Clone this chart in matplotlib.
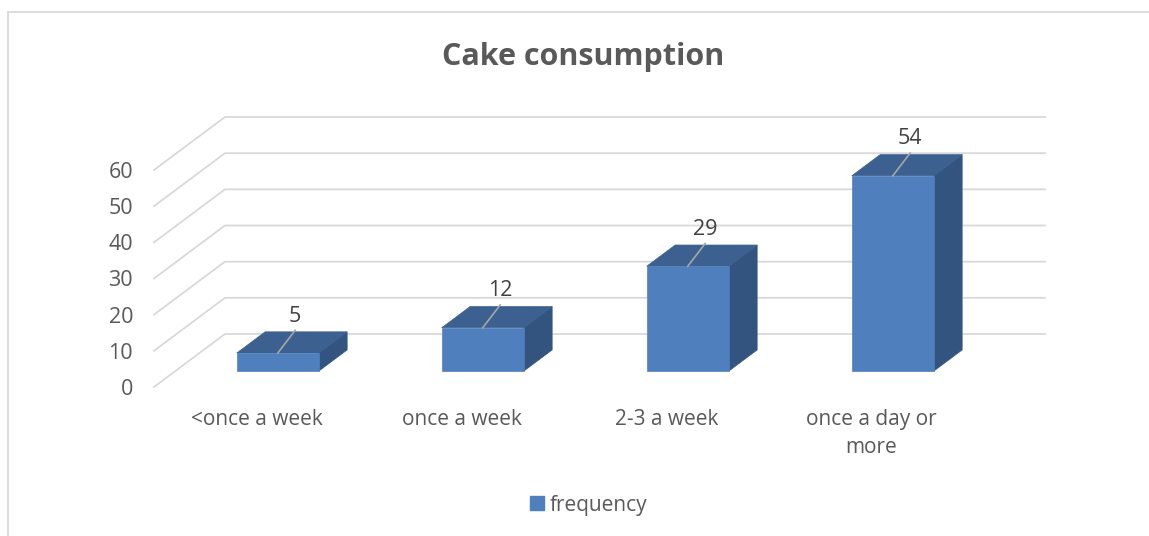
import matplotlib
matplotlib.use("Agg")
import matplotlib.pyplot as plt
import matplotlib as mpl
from matplotlib.patches import Polygon, Rectangle, Patch

categories = ["<once a week", "once a week", "2-3 a week", "once a day or\nmore"]
frequency = [5, 12, 29, 54]
yticks = [0, 10, 20, 30, 40, 50, 60]
title = "Cake consumption"
series_name = "frequency"

plt.rcParams['font.family'] = ['Open Sans', 'DejaVu Sans']

TEXT = "#595959"
GRID = "#d9d9d9"
FRONT = "#4f7fbd"
TOP = "#3c6190"
SIDE = "#32547f"

# oblique projection of the depth axis, in data units
DX = 0.346
DY = 14.65
BAR_W = 0.4
D_FRONT, D_BACK = 0.3, 0.7


def proj(x, v, d):
    return x + d * DX, v + d * DY


fig = plt.figure(figsize=(11.49, 5.36), dpi=100)
ax = fig.add_axes([154 / 1149, (536 - 387) / 536, 820 / 1149, 217 / 536])
ax.set_xlim(-0.5, 3.5)
ax.set_ylim(0, 60)
for s in ax.spines.values():
    s.set_visible(False)
ax.patch.set_visible(False)

ax.set_yticks(yticks)
ax.set_yticklabels([str(t) for t in yticks])
ax.set_xticks(range(len(categories)))
ax.set_xticklabels(categories, linespacing=1.45)
ax.tick_params(axis="y", length=0, pad=15, labelsize=15.5, labelcolor=TEXT)
ax.tick_params(axis="x", length=0, pad=16, labelsize=15, labelcolor=TEXT)

# gridlines on floor edge + back wall
x0, x1 = ax.get_xlim()
for v in yticks:
    bx, by = proj(x0, v, 1)
    ex, ey = proj(x1, v, 1)
    ax.plot([x0, bx, ex], [v, by, ey], color=GRID, lw=1.3, clip_on=False, zorder=1)

# 3d bars
for i, val in enumerate(frequency):
    l, r = i - BAR_W / 2, i + BAR_W / 2
    fl = proj(l, 0, D_FRONT)
    fr = proj(r, 0, D_FRONT)
    ftl = proj(l, val, D_FRONT)
    ftr = proj(r, val, D_FRONT)
    btl = proj(l, val, D_BACK)
    btr = proj(r, val, D_BACK)
    bbr = proj(r, 0, D_BACK)
    ax.add_patch(Polygon([fr, bbr, btr, ftr], closed=True, facecolor=SIDE,
                         edgecolor=SIDE, lw=0.5, clip_on=False, zorder=3))
    ax.add_patch(Polygon([ftl, ftr, btr, btl], closed=True, facecolor=TOP,
                         edgecolor=TOP, lw=0.5, clip_on=False, zorder=3))
    ax.add_patch(Polygon([fl, fr, ftr, ftl], closed=True, facecolor=FRONT,
                         edgecolor=FRONT, lw=0.5, clip_on=False, zorder=4))
    # data label with leader line
    sx, sy = proj(i, val, D_FRONT)
    lx, ly = sx + 0.085, sy + 6.3
    ax.plot([sx, lx], [sy, ly], color="#a6a6a6", lw=1.2, clip_on=False, zorder=5)
    ax.text(lx, ly + 1.0, str(val), ha="center", va="bottom", fontsize=15.5,
            color="#404040", clip_on=False, zorder=6)

fig.text(583 / 1149, 1 - 57 / 536, title, ha="center", va="center", fontsize=22,
         fontweight="bold", color=TEXT)

fig.legend(handles=[Patch(facecolor=FRONT, edgecolor=FRONT, label=series_name)],
           loc="center", bbox_to_anchor=(589 / 1149, 1 - 505 / 536), frameon=False,
           handlelength=0.65, handleheight=0.65, handletextpad=0.3,
           fontsize=15, labelcolor=TEXT)

# chart area border
fig.add_artist(Rectangle((7.5 / 1149, -0.01), 1.1, 1 - 11.5 / 536 + 0.01,
                         transform=fig.transFigure, fill=False, edgecolor=GRID,
                         lw=1.3))

fig.savefig("out.png", dpi=100)
